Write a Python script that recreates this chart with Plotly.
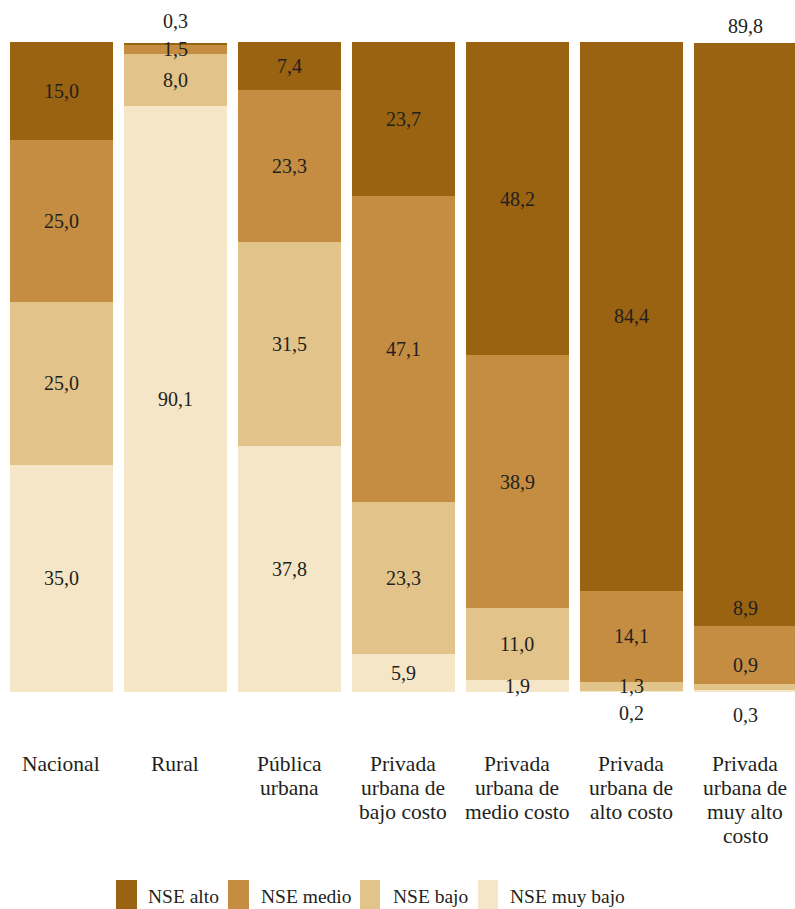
import plotly.graph_objects as go

# ---------------- data ----------------
categories = ["Nacional", "Rural", "Pública urbana",
              "Privada urbana de bajo costo", "Privada urbana de medio costo",
              "Privada urbana de alto costo", "Privada urbana de muy alto costo"]
tick_labels = ["Nacional", "Rural", "Pública<br>urbana",
               "Privada<br>urbana de<br>bajo costo", "Privada<br>urbana de<br>medio costo",
               "Privada<br>urbana de<br>alto costo", "Privada<br>urbana de<br>muy alto<br>costo"]
series_names = ["NSE muy bajo", "NSE bajo", "NSE medio", "NSE alto"]
nse_muy_bajo = [35.0, 90.1, 37.8, 5.9, 1.9, 0.2, 0.3]
nse_bajo = [25.0, 8.0, 31.5, 23.3, 11.0, 1.3, 0.9]
nse_medio = [25.0, 1.5, 23.3, 47.1, 38.9, 14.1, 8.9]
nse_alto = [15.0, 0.3, 7.4, 23.7, 48.2, 84.4, 89.8]

# ---------------- style ----------------
W, H = 795, 909
ML, MR, MT, MB = 4, 0, 42, 217
colors = {"NSE muy bajo": "#F5E6C8", "NSE bajo": "#E2C38A",
          "NSE medio": "#C48D42", "NSE alto": "#996311"}
FONT = "Liberation Serif"
TXT = "#231F20"
STEP = 114.0
plot_w = W - ML - MR
plot_h = H - MT - MB
x_range = [-0.5, -0.5 + plot_w / STEP]

values = {"NSE muy bajo": nse_muy_bajo, "NSE bajo": nse_bajo,
          "NSE medio": nse_medio, "NSE alto": nse_alto}

# label placement overrides: (series, category index) -> (anchor, pixel shift)
overrides = {
    ("NSE alto", 1): ("top", 22),
    ("NSE muy bajo", 5): ("bottom", -21),
    ("NSE muy bajo", 6): ("bottom", -23),
    ("NSE bajo", 6): ("top", 19),
    ("NSE medio", 6): ("top", 18),
    ("NSE alto", 6): ("top", 17),
}

def px_x(p):
    return (p - ML) / plot_w

def px_y(p):
    return (H - MB - p) / plot_h

fig = go.Figure()
for name in series_names:
    fig.add_trace(go.Bar(x=list(range(len(categories))), y=values[name], name=name,
                         marker=dict(color=colors[name], line=dict(width=0)),
                         hoverinfo="name+y", showlegend=False))

annotations = []
cum = [0.0] * len(categories)
for name in series_names:
    for i, v in enumerate(values[name]):
        bottom = cum[i]
        top = cum[i] + v
        anchor, shift = overrides.get((name, i), ("mid", 0))
        if anchor == "mid":
            y = (bottom + top) / 2
        elif anchor == "top":
            y = top
        else:
            y = 0
        annotations.append(dict(x=i, y=y, xref="x", yref="y", text=f"{v:.1f}".replace(".", ","),
                                showarrow=False, yanchor="middle", yshift=shift, borderpad=0,
                                font=dict(family=FONT, size=20, color=TXT)))
        cum[i] = top

# category labels, one annotation per line
LINE1 = 763.5
LSP = 24
for i, lab in enumerate(tick_labels):
    for j, line in enumerate(lab.split("<br>")):
        annotations.append(dict(x=i, y=px_y(LINE1 + j * LSP), xref="x", yref="paper",
                                text=line, showarrow=False, yanchor="middle", borderpad=0,
                                font=dict(family=FONT, size=21.5, color=TXT)))

# manual legend
shapes = []
legend_items = [("NSE alto", 116, 137, 146), ("NSE medio", 228, 249, 259),
                ("NSE bajo", 360, 380, 391), ("NSE muy bajo", 478, 498, 508)]
for name, x0, x1, tx in legend_items:
    shapes.append(dict(type="rect", xref="paper", yref="paper",
                       x0=px_x(x0), x1=px_x(x1), y0=px_y(880), y1=px_y(912),
                       fillcolor=colors[name], line=dict(width=0), layer="above"))
    annotations.append(dict(x=px_x(tx), y=px_y(896), xref="paper", yref="paper",
                            text=name, showarrow=False, xanchor="left", yanchor="middle",
                            font=dict(family=FONT, size=19.5, color=TXT)))

fig.update_layout(
    width=W, height=H, barmode="stack", bargap=1 - 103 / STEP,
    margin=dict(l=ML, r=MR, t=MT, b=MB, pad=0),
    paper_bgcolor="white", plot_bgcolor="white",
    xaxis=dict(range=x_range, showgrid=False, zeroline=False, showticklabels=False,
               showline=False, ticks=""),
    yaxis=dict(range=[0, 100], showgrid=False, zeroline=False, showticklabels=False,
               showline=False, ticks=""),
    annotations=annotations, shapes=shapes, showlegend=False,
    font=dict(family=FONT, color=TXT),
)

fig.write_html("out.html", config={"displayModeBar": False},
               post_script="document.body.style.margin='0';")
